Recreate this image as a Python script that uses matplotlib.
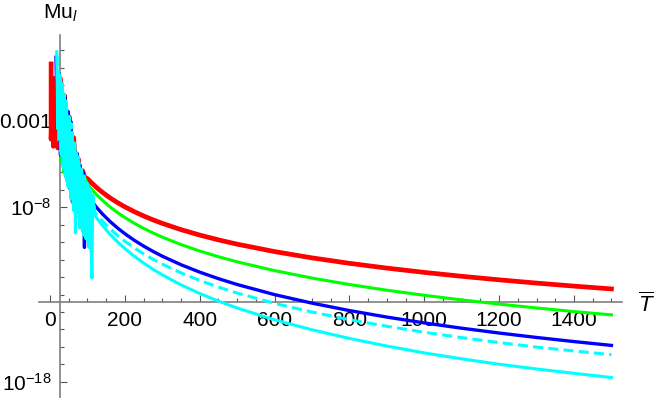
import numpy as np
import matplotlib
matplotlib.use("Agg")
import matplotlib.pyplot as plt
from matplotlib.ticker import FixedLocator, FixedFormatter, NullFormatter

plt.rcParams['font.family'] = ['Liberation Sans', 'DejaVu Sans']
plt.rcParams['mathtext.fontset'] = 'custom'
plt.rcParams['mathtext.rm'] = 'Liberation Sans'
plt.rcParams['mathtext.it'] = 'Liberation Sans:italic'
plt.rcParams['mathtext.default'] = 'regular'

# ---- data (T, log10 of Mu_l) ----
smooth_T = [100, 110, 125, 140, 160, 180, 200, 225, 250, 275, 300, 350, 400, 450, 500,
            600, 700, 800, 900, 1000, 1100, 1200, 1300, 1400, 1500]
cyan_smooth_T = [120, 125, 140, 160, 180, 200, 225, 250, 275, 300, 350, 400, 450, 500,
                 600, 700, 800, 900, 1000, 1100, 1200, 1300, 1400, 1500]

red_T = [3, 3, 9, 9, 15, 21, 27, 33, 39, 45, 51, 57, 63, 69, 75, 81, 87, 93] + smooth_T
red_exp = [0.22, -4.1, -0.6, -4.5, -1.0, -4.6, -0.6, -4.8, -1.6, -5.0, -2.8, -5.4, -4.0, -5.8, -5.2, -6.1, -5.9, -6.3,
           -6.355, -6.578, -6.876, -7.141, -7.453, -7.728, -7.974, -8.249, -8.495, -8.718, -8.921, -9.281,
           -9.593, -9.868, -10.114, -10.540, -10.900, -11.212, -11.487, -11.733, -11.956, -12.159, -12.346,
           -12.519, -12.680]

green_T = [21, 24, 27, 30, 33, 36, 40, 44, 48, 52, 56, 60, 65, 70, 75, 80, 85, 90, 95] + smooth_T
green_exp = [-0.5, -4.2, -0.6, -5.4, -1.1, -6.0, -1.7, -6.4, -2.5, -6.1, -3.1, -6.5, -4.4, -6.9, -5.2, -7.0, -5.9, -7.1, -6.4,
             -6.668, -6.932, -7.286, -7.600, -7.970, -8.296, -8.588, -8.914, -9.206, -9.470, -9.711, -10.138,
             -10.508, -10.834, -11.126, -11.631, -12.058, -12.428, -12.754, -13.046, -13.310, -13.551, -13.772,
             -13.978, -14.169]

blue_T = [16, 20, 24, 28, 32, 36, 40, 44, 48, 52, 56, 60, 64, 68, 72, 76, 80, 84, 88, 92, 96] + smooth_T
blue_exp = [0.6, -3.5, -0.3, -5.0, -0.9, -5.6, -1.7, -6.3, -2.5, -6.9, -3.1, -7.7, -4.3, -7.3, -4.9, -8.3, -5.6, -8.9,
            -6.0, -10.3, -6.6,
            -7.311, -7.614, -8.020, -8.380, -8.805, -9.179, -9.514, -9.889, -10.223, -10.526, -10.803, -11.293,
            -11.718, -12.092, -12.427, -13.007, -13.496, -13.921, -14.295, -14.630, -14.933, -15.210, -15.464,
            -15.699, -15.919]

cyand_T = [19, 22, 26, 29, 33, 37, 41, 45, 49, 53, 57, 61, 65, 70, 75, 80, 85, 90, 95, 100, 105, 110, 115] + cyan_smooth_T
cyand_exp = [0.7, -3.6, -0.4, -4.8, -1.1, -5.8, -1.7, -6.5, -2.6, -7.1, -3.2, -7.8, -4.3, -8.6, -5.1, -9.2, -5.9, -9.6,
             -6.4, -10.0, -6.9, -10.6, -7.4,
             -8.289, -8.421, -8.788, -9.221, -9.604, -9.945, -10.327, -10.669, -10.978, -11.260, -11.760, -12.194,
             -12.575, -12.917, -13.509, -14.008, -14.442, -14.823, -15.165, -15.474, -15.757, -16.016, -16.240,
             -16.450]

cyan_T = [18, 20, 23, 25, 28, 30, 33, 35, 38, 41, 44, 48, 51, 56, 59, 64, 66, 68, 71, 74, 77, 80, 83, 88, 91, 96, 99,
          104, 107, 112, 114] + cyan_smooth_T
cyan_exp = [0.92, -3.5, -0.2, -4.1, -0.6, -5.0, -0.9, -5.7, -1.5, -6.2, -2.0, -6.8, -2.8, -7.5, -3.7, -8.2, -4.4, -9.47,
            -4.9, -8.3, -5.4, -9.0, -5.8, -9.4, -6.2, -9.8, -6.6, -10.3, -7.0, -12.06, -7.3,
            -8.469, -8.621, -9.042, -9.538, -9.976, -10.367, -10.805, -11.197, -11.551, -11.874, -12.448, -12.944,
            -13.381, -13.773, -14.451, -15.024, -15.520, -15.957, -16.349, -16.690, -17.000, -17.270, -17.520,
            -17.760]

x_major = [0, 200, 400, 600, 800, 1000, 1200, 1400]
x_labels = ['0', '200', '400', '600', '800', '1000', '1200', '1400']
y_major = [1e-3, 1e-8, 1e-18]
y_labels = ['0.001', r'$10^{-8}$', r'$10^{-18}$']

# ---- figure ----
W, H = 654, 398
fig = plt.figure(figsize=(W / 100, H / 100), dpi=100)
ax_left, ax_right, ax_top, ax_bottom = 39, 622, 35, 398
ax = fig.add_axes([ax_left / W, 1 - ax_bottom / H, (ax_right - ax_left) / W, (ax_bottom - ax_top) / H])
ax.set_yscale('log')

px_per_T = 0.3743
x0 = 50
ax.set_xlim((ax_left - x0) / px_per_T, (ax_right - x0) / px_per_T)
px_per_dec = 17.44
y8 = 207.3
ax.set_ylim(10 ** (-8 - (ax_bottom - y8) / px_per_dec), 10 ** (-8 + (y8 - ax_top) / px_per_dec))

def plot(T, e, **kw):
    ax.plot(T, 10.0 ** np.array(e), zorder=3, solid_joinstyle='round', **kw)

plot(red_T, red_exp, color='#FF0000', lw=3.4)
plot(green_T, green_exp, color='#00FF00', lw=2.2)
plot(blue_T, blue_exp, color='#0000FF', lw=2.4)
plot(cyand_T, cyand_exp, color='#00FFFF', lw=2.2, linestyle=(0, (3.3, 1.7)))
plot(cyan_T, cyan_exp, color='#00FFFF', lw=2.2)

for s in ['top', 'right']:
    ax.spines[s].set_visible(False)
axcol = '#7f7f7f'
ax.spines['left'].set_position(('data', (60 - x0) / px_per_T))
ax.spines['bottom'].set_position(('data', 10 ** (-8 - (301.7 - y8) / px_per_dec)))
for s in ['left', 'bottom']:
    ax.spines[s].set_color(axcol)
    ax.spines[s].set_linewidth(1.2)
    ax.spines[s].set_zorder(2)

ax.xaxis.set_major_locator(FixedLocator(x_major))
ax.xaxis.set_major_formatter(FixedFormatter(x_labels))
ax.xaxis.set_minor_locator(FixedLocator(np.arange(0, 1501, 50)))
ax.yaxis.set_major_locator(FixedLocator(y_major))
ax.yaxis.set_major_formatter(FixedFormatter(y_labels))
ax.yaxis.set_minor_locator(FixedLocator([10.0 ** k for k in range(-18, 2)]))
ax.yaxis.set_minor_formatter(NullFormatter())

ax.tick_params(axis='both', which='major', direction='in', length=5, width=0.8, color='#555555',
               labelsize=15, labelcolor='black')
ax.tick_params(axis='both', which='minor', direction='in', length=3, width=0.8, color='#555555')
ax.tick_params(axis='x', which='major', pad=7)
ax.tick_params(axis='y', which='major', pad=6)

fig.text(43 / W, 1 - 19 / H, r'Mu$_{\mathit{l}}$', fontsize=15, ha='left', va='baseline')
fig.text(638 / W, 1 - 312 / H, r'$\overline{\mathit{T}}$', fontsize=16, ha='left', va='baseline')

fig.savefig('out.png', dpi=100)
